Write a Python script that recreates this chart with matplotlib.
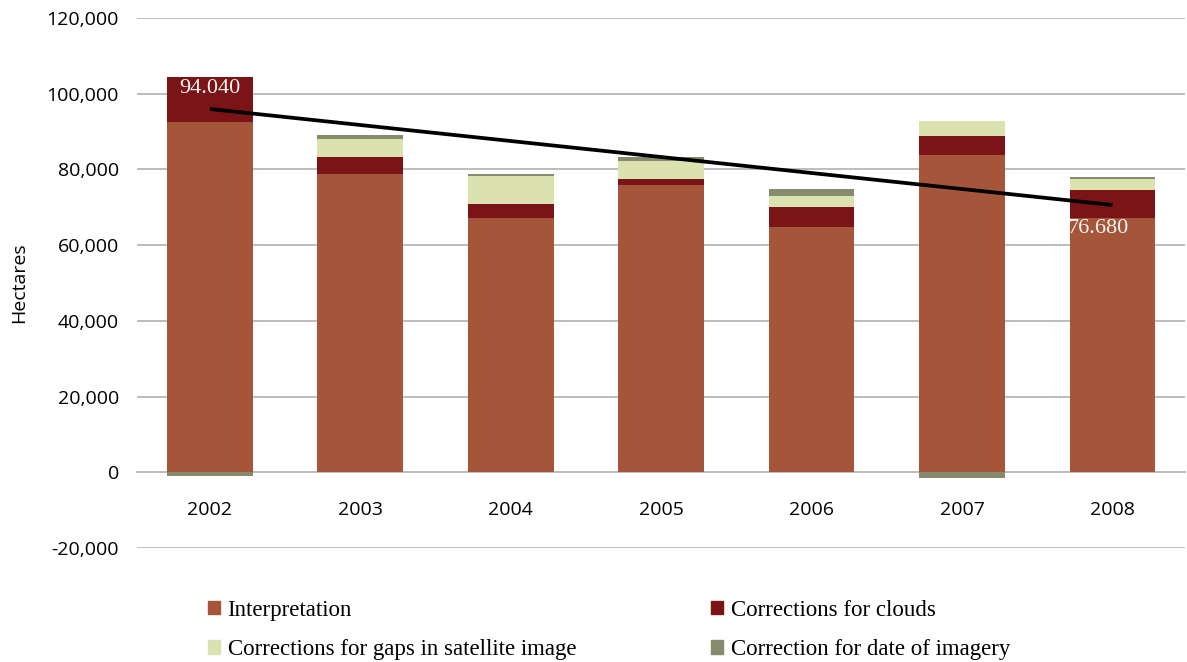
import numpy as np
import matplotlib
matplotlib.use("Agg")
import matplotlib.pyplot as plt
from matplotlib.patches import Patch

years = ["2002", "2003", "2004", "2005", "2006", "2007", "2008"]
interpretation = [92400, 78700, 67100, 76000, 64900, 83700, 67100]
clouds = [12100, 4500, 3700, 1600, 5300, 5000, 7400]
gaps = [0, 4750, 7400, 4750, 2900, 4000, 2900]
date_corr = [-1100, 1050, 530, 1050, 1600, -1600, 530]

trend_years = ["2002", "2008"]
trend_values = [94040, 76680]
trend_labels = ["94.040", "76.680"]

c_interp = "#A5553A"
c_clouds = "#7B1416"
c_gaps = "#DBE2AF"
c_date = "#878B6D"

tick_font = "Open Sans"
serif_font = "Liberation Serif"

fig = plt.figure(figsize=(11.87, 6.62), dpi=100)
ax = fig.add_axes([0.1154, 0.1722, 0.8826, 0.8006])

x = np.arange(len(years))
w = 0.57
interp = np.array(interpretation, float)
cl = np.array(clouds, float)
gp = np.array(gaps, float)
dt = np.array(date_corr, float)

ax.bar(x, interp, w, color=c_interp, zorder=2)
ax.bar(x, cl, w, bottom=interp, color=c_clouds, zorder=2)
ax.bar(x, gp, w, bottom=interp + cl, color=c_gaps, zorder=2)
date_bottom = np.where(dt > 0, interp + cl + gp, 0)
ax.bar(x, dt, w, bottom=date_bottom, color=c_date, zorder=2)

ax.set_xlim(-0.485, 6.48)
ax.set_ylim(-20000, 120000)
ax.set_yticks(np.arange(-20000, 120001, 20000))
ax.set_yticklabels([f"{v:,}" for v in range(-20000, 120001, 20000)],
                   fontsize=14, family=tick_font)
ax.yaxis.grid(True, color="#BDBDBD", lw=1.4, zorder=0)
ax.set_axisbelow(True)
for s in ["left", "right", "top"]:
    ax.spines[s].set_visible(False)
ax.spines["bottom"].set_position(("data", 0))
ax.spines["bottom"].set_color("#BDBDBD")
ax.spines["bottom"].set_linewidth(1.4)
ax.spines["bottom"].set_zorder(1)
ax.set_xticks(x)
ax.set_xticklabels(years, fontsize=14, family=tick_font)
ax.tick_params(axis="x", length=0, pad=21)
ax.tick_params(axis="y", length=0, pad=13)
ax.set_ylabel("Hectares", fontsize=14, family=tick_font, labelpad=13)

# Trend series on a hidden secondary scale
ax2 = ax.twinx()
ax2.set_ylim(14655, 110496)
ax2.axis("off")
tx = [years.index(y) for y in trend_years]
ax2.plot(tx, trend_values, color="black", lw=2.7, solid_capstyle="butt", zorder=5)
ax2.annotate(trend_labels[0], (tx[0], trend_values[0]), xytext=(0, 14.5),
             textcoords="offset points", ha="center", va="center",
             color="#F4F4F4", fontsize=16, family=serif_font)
ax2.annotate(trend_labels[1], (tx[1], trend_values[1]), xytext=(-10, -17),
             textcoords="offset points", ha="center", va="center",
             color="#F4F4F4", fontsize=16, family=serif_font)

handles = [Patch(color=c_interp, label="Interpretation"),
           Patch(color=c_gaps, label="Corrections for gaps in satellite image"),
           Patch(color=c_clouds, label="Corrections for clouds"),
           Patch(color=c_date, label="Correction for date of imagery")]
fig.legend(handles=handles, ncol=2, loc="upper left",
           bbox_to_anchor=(0.175, 0.094), frameon=False,
           prop={"family": serif_font, "size": 16.5},
           borderpad=0, borderaxespad=0,
           handlelength=0.52, handleheight=0.52, handletextpad=0.35,
           columnspacing=5.9, labelspacing=0.8)

fig.savefig("out.png", dpi=100)
